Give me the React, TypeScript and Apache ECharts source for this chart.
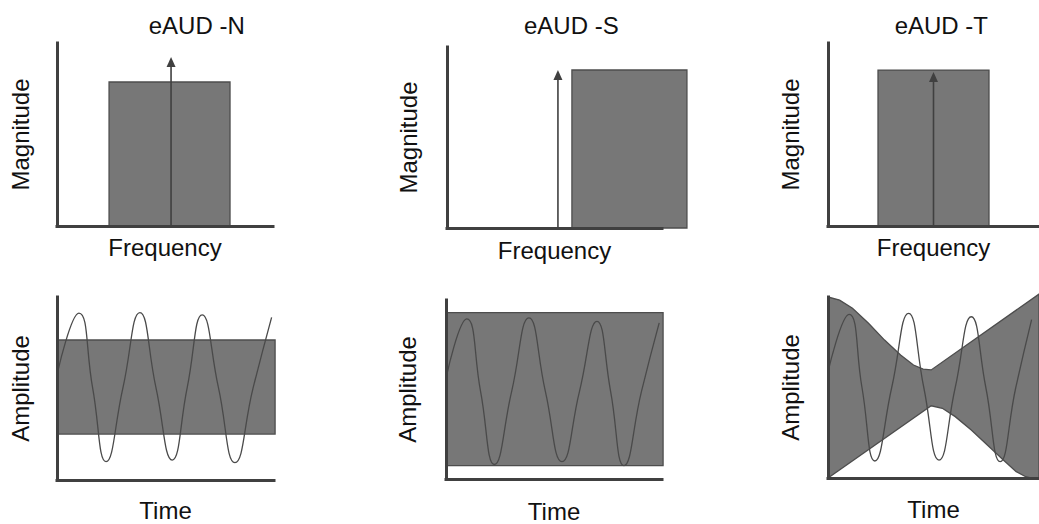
import React, { useEffect, useRef } from "react";
import * as echarts from "echarts";

// ---------- data (normalised 0..100 units on each panel's axes) ----------
const panelTitles = ["eAUD -N", "eAUD -S", "eAUD -T"];
const xNames = ["Frequency", "Frequency", "Frequency", "Time", "Time", "Time"];
const yNames = ["Magnitude", "Magnitude", "Magnitude", "Amplitude", "Amplitude", "Amplitude"];

// spectrum bands: [xStart, xEnd, yBottom, yTop]
const bandN = [24.1, 80.1, 0, 78.7];
const bandS = [58.1, 111.6, 0, 87.3];
const bandT = [23.7, 76.3, 0, 85.2];

// carrier arrows: [x, tipY]
const arrowN = [52.8, 92.3];
const arrowS = [51.6, 87.3];
const arrowT = [50, 84.2];

// time-domain envelopes
const envRectN = [0, 100.5, 25.1, 76.5];
const envRectS = [0, 100.5, 7.5, 93];
const envUpperT = [
  [0, 100], [5.5, 98.3], [11.6, 93.8], [19.2, 85.5], [26.8, 76.2],
  [34.4, 68.0], [40.5, 62.4], [45.1, 60.2], [48.9, 59.7], [100, 101.6],
];
const envLowerT = [
  [0, 0], [48.9, 39.9], [54.2, 38.5], [60.3, 33.9], [67.9, 26.5],
  [75.5, 18.2], [83.1, 9.9], [89.2, 3.5], [93.7, 0.7], [96.0, 0], [100, 0],
];

// carrier waveforms
const sineN = [
  [0.5, 60], [10.1, 91.2], [16.4, 50.5], [22.6, 10.0], [30.4, 50.5], [38.2, 91.5],
  [45.6, 50.5], [53.1, 10.9], [60.0, 50.5], [66.9, 90.2], [74.4, 50.5], [82.0, 9.5],
  [90.4, 50.5], [98.9, 88.9],
];
const sineS = [
  [0.3, 57.9], [9.6, 89.4], [16.0, 49], [22.4, 8.1], [30.4, 49], [38.4, 90.0],
  [46.0, 49], [53.7, 9.7], [61.8, 49], [69.9, 88.1], [76.2, 49], [82.4, 7.5],
  [90.5, 49], [98.7, 87.2],
];
const sineT = [
  [0, 58.7], [10.0, 90.4], [16.1, 50], [22.2, 9.4], [30.2, 50], [38.2, 91.0],
  [45.4, 50], [52.6, 9.9], [60.3, 50], [67.9, 89.1], [74.8, 50], [81.6, 9.0],
  [89.0, 50], [96.5, 87.5],
];

// ---------- layout / style ----------
const W = 1039;
const H = 524;
const FONT = "'Liberation Sans', Arial, Helvetica, sans-serif";
const FILL = "#777777";
const EDGE = "#4d4d4d";
const AXIS = "#404040";
const WAVE = "#4a4a4a";
const TEXT = "#111111";

const grids = [
  { left: 57, top: 43, width: 216, height: 183 },
  { left: 447, top: 47, width: 215, height: 181 },
  { left: 828, top: 43, width: 228, height: 183 },
  { left: 57, top: 297, width: 217, height: 183 },
  { left: 446, top: 300, width: 216, height: 182 },
  { left: 828, top: 297, width: 219, height: 181 },
];
const xNameGaps = [9, 10.7, 9.3, 18, 20, 19];
const yNameGaps = [25, 26.6, 26, 25, 26.6, 26];
const titlePos = [
  [196.7, 25.3],
  [571.3, 25.3],
  [941.3, 25.3],
];

function rectSeries(idx: number, band: number[]) {
  return {
    type: "custom",
    xAxisIndex: idx,
    yAxisIndex: idx,
    clip: false,
    z: 2,
    data: [band],
    renderItem: (_p: any, api: any) => {
      const a = api.coord([api.value(0), api.value(3)]);
      const b = api.coord([api.value(1), api.value(2)]);
      return {
        type: "rect",
        shape: { x: a[0], y: a[1], width: b[0] - a[0], height: b[1] - a[1] },
        style: { fill: FILL, stroke: EDGE, lineWidth: 1.3 },
      };
    },
  };
}

function arrowSeries(idx: number, arrow: number[]) {
  return {
    type: "custom",
    xAxisIndex: idx,
    yAxisIndex: idx,
    clip: false,
    z: 4,
    data: [arrow],
    renderItem: (_p: any, api: any) => {
      const base = api.coord([api.value(0), 0]);
      const tip = api.coord([api.value(0), api.value(1)]);
      const hw = 4.5;
      const hl = 10;
      return {
        type: "group",
        children: [
          {
            type: "line",
            shape: { x1: base[0], y1: base[1], x2: tip[0], y2: tip[1] + hl - 1 },
            style: { stroke: AXIS, lineWidth: 1.6 },
          },
          {
            type: "polygon",
            shape: {
              points: [
                [tip[0], tip[1]],
                [tip[0] - hw, tip[1] + hl],
                [tip[0] + hw, tip[1] + hl],
              ],
            },
            style: { fill: AXIS },
          },
        ],
      };
    },
  };
}

function polygonSeries(idx: number, upper: number[][], lower: number[][]) {
  return {
    type: "custom",
    xAxisIndex: idx,
    yAxisIndex: idx,
    clip: false,
    z: 2,
    data: [[0]],
    renderItem: (_p: any, api: any) => {
      const pts = upper
        .concat(lower.slice().reverse())
        .map((p) => api.coord(p));
      return {
        type: "polygon",
        shape: { points: pts },
        style: { fill: FILL, stroke: EDGE, lineWidth: 1.3 },
      };
    },
  };
}

function waveSeries(idx: number, pts: number[][]) {
  return {
    type: "line",
    xAxisIndex: idx,
    yAxisIndex: idx,
    data: pts,
    smooth: 0.5,
    showSymbol: false,
    symbol: "none",
    clip: false,
    z: 3,
    lineStyle: { color: WAVE, width: 1.3 },
  };
}

function buildOption() {
  const axisLine = { show: true, lineStyle: { color: AXIS, width: 3, cap: "square" } };
  const nameStyle = { fontFamily: FONT, fontSize: 24, color: TEXT };
  return {
    animation: false,
    backgroundColor: "#ffffff",
    grid: grids.map((g) => ({ ...g, containLabel: false })),
    xAxis: grids.map((_g, i) => ({
      type: "value",
      gridIndex: i,
      min: 0,
      max: 100,
      z: 10,
      axisLine,
      axisTick: { show: false },
      axisLabel: { show: false },
      splitLine: { show: false },
      name: xNames[i],
      nameLocation: "middle",
      nameGap: xNameGaps[i],
      nameTextStyle: nameStyle,
    })),
    yAxis: grids.map((_g, i) => ({
      type: "value",
      gridIndex: i,
      min: 0,
      max: 100,
      z: 10,
      axisLine,
      axisTick: { show: false },
      axisLabel: { show: false },
      splitLine: { show: false },
      name: yNames[i],
      nameLocation: "middle",
      nameGap: yNameGaps[i],
      nameTextStyle: nameStyle,
    })),
    graphic: panelTitles.map((t, i) => ({
      type: "text",
      x: titlePos[i][0],
      y: titlePos[i][1],
      style: {
        text: t,
        fontFamily: FONT,
        fontSize: 24,
        fill: TEXT,
        align: "center",
        verticalAlign: "middle",
      },
    })),
    series: [
      rectSeries(0, bandN),
      arrowSeries(0, arrowN),
      rectSeries(1, bandS),
      arrowSeries(1, arrowS),
      rectSeries(2, bandT),
      arrowSeries(2, arrowT),
      rectSeries(3, envRectN),
      waveSeries(3, sineN),
      rectSeries(4, envRectS),
      waveSeries(4, sineS),
      polygonSeries(5, envUpperT, envLowerT),
      waveSeries(5, sineT),
    ],
  };
}

export default function App() {
  const ref = useRef<HTMLDivElement>(null);
  useEffect(() => {
    document.body.style.margin = "0";
    const chart = echarts.init(ref.current as HTMLDivElement, null, { renderer: "svg" });
    chart.setOption(buildOption() as any);
    return () => chart.dispose();
  }, []);
  return <div ref={ref} style={{ width: W, height: H, overflow: "hidden" }} />;
}
